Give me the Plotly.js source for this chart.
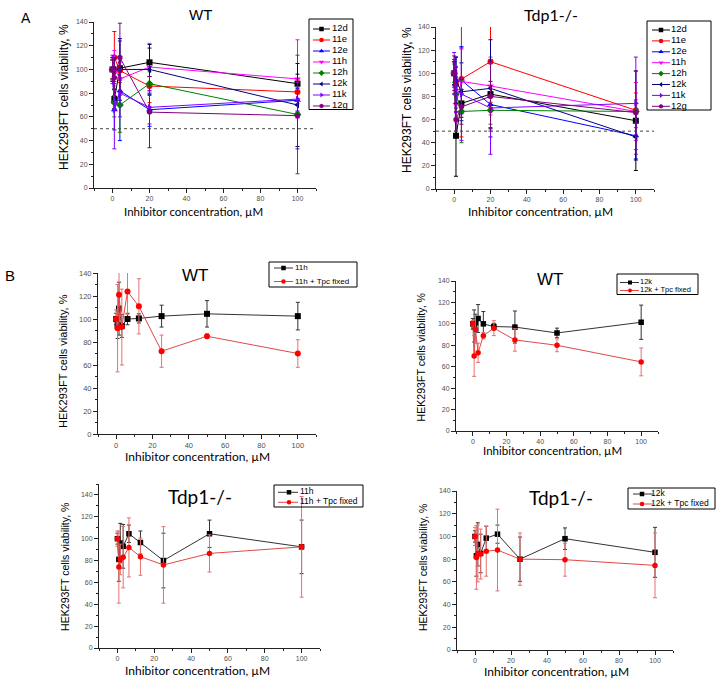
<!DOCTYPE html>
<html><head><meta charset="utf-8">
<script src="https://cdn.plot.ly/plotly-3.0.1.min.js"></script>
<style>html,body{margin:0;padding:0;background:#fff}#chart{width:722px;height:683px}</style>
</head><body><div id="chart"></div>
<script>
// ================= DATA =================
// Panel A: compounds, concentrations (µM)
const seriesA = ['12d', '11e', '12e', '11h', '12h', '12k', '11k', '12g'];
const concA = [0, 1, 4, 20, 100];
// WT viability (%), rows follow seriesA
const wtA_vals = [
  [100, 75, 101, 106, 88],
  [100, 110, 99, 86, 81],
  [100, 66, 82, 66, 74],
  [100, 101, 92, 102, 92],
  [100, 72, 70, 88, 62],
  [100, 100, 100, 100, 70],
  [100, 66, 80, 68, 75],
  [100, 93, 110, 64, 61]
];
const wtA_err = [
  [8, 8, 10, 12, 8],
  [8, 22, 10, 14, 10],
  [10, 17, 42, 14, 10],
  [8, 15, 14, 20, 33],
  [8, 12, 23, 10, 50],
  [10, 10, 26, 21, 35],
  [12, 33, 20, 14, 10],
  [10, 15, 29, 30, 28]
];
// Tdp1-/- viability (%)
const koA_vals = [
  [100, 46, 74, 82, 59],
  [100, 90, 95, 110, 68],
  [100, 94, 94, 73, 46],
  [100, 73, 93, 89, 67],
  [100, 82, 67, 68, 67],
  [100, 94, 84, 87, 45],
  [100, 86, 82, 70, 74],
  [100, 60, 71, 80, 66]
];
const koA_err = [
  [10, 35, 12, 30, 43],
  [10, 15, 50, 35, 15],
  [12, 20, 29, 20, 20],
  [10, 15, 28, 25, 25],
  [8, 15, 27, 12, 10],
  [10, 20, 25, 42, 20],
  [18, 20, 40, 40, 40],
  [15, 10, 15, 30, 36]
];

// Panel B: two-fold dilution series (µM)
const concB = [0, 0.78, 1.56, 3.125, 6.25, 12.5, 25, 50, 100];
const namesB11h = ['11h', '11h + Tpc fixed'];
const namesB12k = ['12k', '12k + Tpc fixed'];
// WT, 11h
const wt11h = [100, 95, 109, 94, 100, 100.5, 102.5, 104.5, 102.5];
const wt11h_err = [5, 12, 23, 10, 5, 4, 9.5, 11.5, 12];
const wt11hTpc = [100, 92, 121, 93, 124, 111, 72, 85, 70];
const wt11hTpc_err = [8, 38, 30, 33, 20, 24, 14, 2, 12];
// WT, 12k
const wt12k = [100, 98, 101, 105, 100, 97.5, 97, 91.5, 101.5];
const wt12k_err = [5, 15, 8, 13, 11.5, 3, 15, 4.5, 16];
const wt12kTpc = [100, 70, 95, 73, 89, 96, 85, 80, 64.5];
const wt12kTpc_err = [3, 19, 13, 9, 3, 7, 10.5, 6, 13];
// Tdp1-/-, 11h
const ko11h = [100, 81, 96, 93, 104.5, 96.5, 80, 104.5, 92.5];
const ko11h_err = [5, 20, 18, 20, 8, 10.5, 25, 12.5, 24.5];
const ko11hTpc = [100, 74, 81, 83, 92, 83.5, 76, 86.5, 92.5];
const ko11hTpc_err = [7, 33, 14, 28, 27, 17, 35, 17, 46];
// Tdp1-/-, 12k
const ko12k = [100, 83, 93, 85, 98.5, 102, 80, 98, 86];
const ko12k_err = [5, 18, 19, 17, 10.5, 8, 19.5, 9.5, 22];
const ko12kTpc = [100, 81.5, 85, 84.5, 87, 88, 80, 79.5, 74.5];
const ko12kTpc_err = [8, 28, 25, 22, 22, 36, 23, 14.5, 28.5];

// ================= STYLE =================
const colorsA = ['#000000', '#ff0000', '#0000ff', '#ff00ff', '#008000', '#000080', '#8000ff', '#800080'];
const symbolsA = ['square', 'circle', 'triangle-up', 'triangle-down', 'diamond', 'triangle-left', 'triangle-right', 'hexagon'];
const colorsB = ['#000000', '#ff0000'];
const lineColorsB = ['#333333', '#e04848'];
const errColorsB = ['#333333', '#e87070'];
const symbolsB = ['square', 'circle'];

const W = 722, H = 683;
const px = v => v / W;
const py = v => 1 - v / H;

const traces = [];
const layout = {
  width: W, height: H, margin: {l: 0, r: 0, t: 0, b: 0},
  paper_bgcolor: '#fff', plot_bgcolor: 'rgba(0,0,0,0)',
  showlegend: false, hovermode: false,
  annotations: [], shapes: []
};

function axName(k, letter) { return letter + (k === 1 ? '' : k); }
function axKey(k, letter) { return letter + 'axis' + (k === 1 ? '' : k); }

function addDataAxes(k, box, yRange, tf) {
  const common = {
    showline: true, linecolor: '#222', linewidth: 1,
    ticks: 'outside', ticklen: 4, tickwidth: 1, tickcolor: '#222',
    showgrid: false, zeroline: false, fixedrange: true,
    tickfont: {family: 'Liberation Sans, Arial, sans-serif', size: tf, color: '#505050'},
    minor: {ticks: 'outside', ticklen: 2, tickcolor: '#222', tick0: 0, dtick: 10, showgrid: false}
  };
  layout[axKey(k, 'x')] = Object.assign({}, common, {
    domain: [px(box[0]), px(box[2])], range: [-10, 110], tick0: 0, dtick: 20,
    anchor: axName(k, 'y')
  });
  layout[axKey(k, 'y')] = Object.assign({}, common, {
    domain: [py(box[3]), py(box[1])], range: yRange, tick0: 0, dtick: 20,
    anchor: axName(k, 'x')
  });
}

function addSeries(k, x, y, err, color, lineColor, errColor, symbol, size) {
  traces.push({
    type: 'scatter', mode: 'lines+markers', x: x, y: y,
    xaxis: axName(k, 'x'), yaxis: axName(k, 'y'),
    line: {color: lineColor, width: 1},
    marker: {color: color, symbol: symbol, size: size, line: {width: 0}},
    error_y: {type: 'data', array: err, visible: true, color: errColor, thickness: 1, width: 2},
    hoverinfo: 'skip'
  });
}

// custom legend drawn on a hidden axis pair
function addLegend(k, box, names, colors, lineColors, symbols, lx0, lx1, mx, tx, y0, sp, fs, ms) {
  layout[axKey(k, 'x')] = {domain: [px(box[0]), px(box[2])], range: [box[0], box[2]], visible: false, fixedrange: true, anchor: axName(k, 'y')};
  layout[axKey(k, 'y')] = {domain: [py(box[3]), py(box[1])], range: [(box[3] - y0) / sp, (box[1] - y0) / sp], visible: false, fixedrange: true, anchor: axName(k, 'x')};
  names.forEach((n, i) => {
    traces.push({
      type: 'scatter', mode: 'lines', x: [lx0, lx1], y: [i, i],
      xaxis: axName(k, 'x'), yaxis: axName(k, 'y'),
      line: {color: lineColors[i], width: 1}, hoverinfo: 'skip'
    });
    traces.push({
      type: 'scatter', mode: 'markers', x: [mx], y: [i],
      xaxis: axName(k, 'x'), yaxis: axName(k, 'y'),
      marker: {color: colors[i], symbol: symbols[i], size: ms, line: {width: 0}},
      cliponaxis: false, hoverinfo: 'skip'
    });
  });
  traces.push({
    type: 'scatter', mode: 'text', x: names.map(() => tx), y: names.map((_, i) => i),
    text: names, textposition: 'middle right', cliponaxis: false,
    textfont: {family: 'Liberation Sans, Arial, sans-serif', size: fs, color: '#000'},
    xaxis: axName(k, 'x'), yaxis: axName(k, 'y'), hoverinfo: 'skip'
  });
  layout.shapes.push({type: 'rect', xref: 'paper', yref: 'paper',
    x0: px(box[0]), x1: px(box[2]), y0: py(box[3]), y1: py(box[1]),
    line: {color: '#000', width: 1}, fillcolor: 'rgba(0,0,0,0)'});
}

function ann(text, x, y, size, family, angle) {
  layout.annotations.push({text: text, x: px(x), y: py(y), xref: 'paper', yref: 'paper',
    showarrow: false, xanchor: 'center', yanchor: 'middle', textangle: angle || 0,
    font: {family: family, size: size, color: '#000'}});
}

const ARIAL = 'Liberation Sans, Arial, sans-serif';
const CALIBRI = 'Lato, Carlito, sans-serif';
const XT = 'Inhibitor concentration, µM';
const YT = 'HEK293FT cells viability, %';

// ---- Panel A WT (axes 1) ----
addDataAxes(1, [94, 22, 316, 188], [0, 140], 7);
seriesA.forEach((n, i) => addSeries(1, concA, wtA_vals[i], wtA_err[i], colorsA[i], colorsA[i], colorsA[i], symbolsA[i], 6));
layout.shapes.push({type: 'line', xref: 'x domain', yref: 'y', x0: 0, x1: 1, y0: 50, y1: 50, line: {color: '#444', width: 1, dash: 'dot'}});
// ---- Panel A Tdp1 (axes 2) ----
addDataAxes(2, [436, 27, 654, 189], [0, 140], 7);
seriesA.forEach((n, i) => addSeries(2, concA, koA_vals[i], koA_err[i], colorsA[i], colorsA[i], colorsA[i], symbolsA[i], 6));
layout.shapes.push({type: 'line', xref: 'x2 domain', yref: 'y2', x0: 0, x1: 1, y0: 50, y1: 50, line: {color: '#444', width: 1, dash: 'dot'}});
// ---- Panel B WT 11h (axes 3) ----
addDataAxes(3, [98, 273, 316, 434], [0, 140], 7.5);
addSeries(3, concB, wt11h, wt11h_err, colorsB[0], lineColorsB[0], errColorsB[0], symbolsB[0], 6);
addSeries(3, concB, wt11hTpc, wt11hTpc_err, colorsB[1], lineColorsB[1], errColorsB[1], symbolsB[1], 6);
// ---- Panel B WT 12k (axes 4) ----
addDataAxes(4, [456, 281, 658, 431], [0, 140], 7);
addSeries(4, concB, wt12k, wt12k_err, colorsB[0], lineColorsB[0], errColorsB[0], symbolsB[0], 5.5);
addSeries(4, concB, wt12kTpc, wt12kTpc_err, colorsB[1], lineColorsB[1], errColorsB[1], symbolsB[1], 5.5);
// ---- Panel B Tdp1 11h (axes 5) ----
addDataAxes(5, [99, 484, 320, 648], [0, 150], 7);
addSeries(5, concB, ko11h, ko11h_err, colorsB[0], lineColorsB[0], errColorsB[0], symbolsB[0], 5.5);
addSeries(5, concB, ko11hTpc, ko11hTpc_err, colorsB[1], lineColorsB[1], errColorsB[1], symbolsB[1], 5.5);
// ---- Panel B Tdp1 12k (axes 6) ----
addDataAxes(6, [457, 491, 673, 650], [0, 140], 7);
addSeries(6, concB, ko12k, ko12k_err, colorsB[0], lineColorsB[0], errColorsB[0], symbolsB[0], 5.5);
addSeries(6, concB, ko12kTpc, ko12kTpc_err, colorsB[1], lineColorsB[1], errColorsB[1], symbolsB[1], 5.5);

// ---- legends ----
addLegend(7, [309, 19, 353, 109.5], seriesA, colorsA, colorsA, symbolsA, 313, 330, 321.5, 332, 29, 11, 9.5, 4.5);
addLegend(8, [647, 21, 711, 110], seriesA, colorsA, colorsA, symbolsA, 652, 670, 661, 671, 30, 10.9, 9.5, 4.5);
addLegend(9, [269, 262, 357, 287], namesB11h, colorsB, lineColorsB, symbolsB, 274, 293, 283.5, 295, 268, 13.5, 8, 4.5);
addLegend(10, [617, 274, 698, 294.5], namesB12k, colorsB, lineColorsB, symbolsB, 620, 639, 630, 640, 282.5, 8, 7.5, 4);
addLegend(11, [274, 485, 363, 507], namesB11h, colorsB, lineColorsB, symbolsB, 278, 298, 289, 300, 492.3, 10, 8.5, 4.5);
addLegend(12, [628, 488, 715, 509], namesB12k, colorsB, lineColorsB, symbolsB, 633, 653, 642, 651, 494, 10, 8.5, 4.5);

// ---- text ----
ann('A', 26, 18, 14, ARIAL);
ann('B', 10, 275.5, 15, ARIAL);
ann('WT', 200, 15, 15, ARIAL);
ann('Tdp1-/-', 551, 15, 16, CALIBRI);
ann('WT', 195, 275, 17, ARIAL);
ann('WT', 550, 279.5, 17, ARIAL);
ann('Tdp1-/-', 200, 496, 19, CALIBRI);
ann('Tdp1-/-', 561, 497, 19, CALIBRI);
ann(XT, 193, 211, 11.5, CALIBRI);
ann(XT, 540, 211, 12, CALIBRI);
ann(XT, 197, 456, 12, CALIBRI);
ann(XT, 552, 450.5, 11.5, CALIBRI);
ann(XT, 197, 670, 12, CALIBRI);
ann(XT, 556, 671, 12, CALIBRI);
ann(YT, 64, 97, 12, ARIAL, -90);
ann(YT, 407, 100, 12, ARIAL, -90);
ann(YT, 63, 361, 11, ARIAL, -90);
ann(YT, 420, 357.5, 10.6, ARIAL, -90);
ann(YT, 65, 567, 10.6, ARIAL, -90);
ann(YT, 423, 567, 10.5, ARIAL, -90);

Plotly.newPlot('chart', traces, layout, {displayModeBar: false, staticPlot: true});
</script>
</body></html>
